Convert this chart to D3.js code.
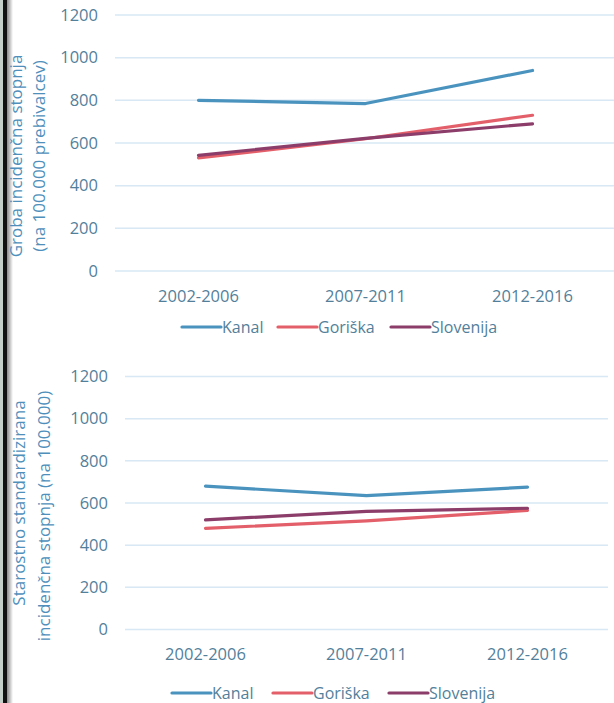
<!DOCTYPE html>
<html>
<head>
<meta charset="utf-8">
<title>Incidenčna stopnja</title>
<script src="https://d3js.org/d3.v7.min.js"></script>
<style>
  body { margin: 0; background: #fff; }
  svg { display: block; font-family: "Open Sans", sans-serif; }
</style>
</head>
<body>
<div id="chart"></div>
<script>
// data
var periods = ["2002-2006", "2007-2011", "2012-2016"];
var seriesNames = ["Kanal", "Goriška", "Slovenija"];
var seriesColors = ["#4a93bf", "#e35f69", "#8c3d69"];
var yTicks = [0, 200, 400, 600, 800, 1000, 1200];

// groba incidenčna stopnja
var crudeKanal = [800, 785, 940];
var crudeGoriska = [530, 620, 730];
var crudeSlovenija = [542, 622, 690];

// starostno standardizirana
var stdKanal = [680, 635, 675];
var stdGoriska = [480, 515, 565];
var stdSlovenija = [520, 560, 575];

var W = 614, H = 703;
var svg = d3.select("#chart").append("svg")
    .attr("width", W)
    .attr("height", H);

// frame on the left edge
var grad = svg.append("defs").append("linearGradient").attr("id", "edge");
grad.append("stop").attr("offset", "0%").attr("stop-color", "#8a8a8a");
grad.append("stop").attr("offset", "100%").attr("stop-color", "#ffffff");
svg.append("rect").attr("x", 0).attr("y", 0).attr("width", 3).attr("height", H).attr("fill", "#c5cfca");
svg.append("rect").attr("x", 3).attr("y", 0).attr("width", 4).attr("height", H).attr("fill", "#111");
svg.append("rect").attr("x", 7).attr("y", 0).attr("width", 6).attr("height", H).attr("fill", "url(#edge)");

function drawPanel(cfg) {
    var g = svg.append("g");

    var x = d3.scaleBand()
        .domain(periods)
        .range([cfg.left, cfg.right]);

    var y = d3.scaleLinear()
        .domain([0, 1200])
        .range([cfg.bottom, cfg.top]);

    // gridlines
    g.selectAll(".grid")
        .data(yTicks)
        .enter()
        .append("line")
        .attr("x1", cfg.left)
        .attr("x2", cfg.gridRight)
        .attr("y1", function(d) { return y(d); })
        .attr("y2", function(d) { return y(d); })
        .attr("stroke", "#d8e8f4")
        .attr("stroke-width", 1.5);

    // y tick labels
    g.selectAll(".ytick")
        .data(yTicks)
        .enter()
        .append("text")
        .attr("x", cfg.tickX)
        .attr("y", function(d) { return y(d); })
        .attr("dy", "0.35em")
        .attr("text-anchor", "end")
        .attr("fill", "#537f9b")
        .style("font-size", "16.5px")
        .text(function(d) { return d; });

    // x labels
    g.selectAll(".xtick")
        .data(periods)
        .enter()
        .append("text")
        .attr("x", function(d) { return x(d) + x.bandwidth() / 2; })
        .attr("y", cfg.xLabelY)
        .attr("text-anchor", "middle")
        .attr("fill", "#537f9b")
        .style("font-size", "16.5px")
        .text(function(d) { return d; });

    // y axis title
    cfg.title.forEach(function(t) {
        g.append("text")
            .attr("transform", "translate(" + t.x + "," + t.y + ")rotate(-90)")
            .attr("text-anchor", "middle")
            .attr("fill", "#4f8fbb")
            .style("font-size", "17px")
            .text(t.text);
    });

    var line = d3.line()
        .x(function(d, i) { return x(periods[i]) + x.bandwidth() / 2; })
        .y(function(d) { return y(d); });

    // draw in order Kanal, Goriška, Slovenija
    cfg.series.forEach(function(vals, i) {
        g.append("path")
            .datum(vals)
            .attr("d", line)
            .attr("fill", "none")
            .attr("stroke", seriesColors[i])
            .attr("stroke-width", 3.2)
            .attr("stroke-linecap", "round")
            .attr("stroke-linejoin", "round");
    });

    // legend
    var lg = g.append("g");
    seriesNames.forEach(function(name, i) {
        var lx = cfg.legendX[i];
        lg.append("line")
            .attr("x1", lx)
            .attr("x2", lx + 39)
            .attr("y1", cfg.legendY)
            .attr("y2", cfg.legendY)
            .attr("stroke", seriesColors[i])
            .attr("stroke-width", 3.2)
            .attr("stroke-linecap", "round");
        lg.append("text")
            .attr("x", lx + 40)
            .attr("y", cfg.legendY)
            .attr("dy", "0.35em")
            .attr("fill", "#537f9b")
            .style("font-size", "16px")
            .text(name);
    });
}

drawPanel({
    left: 115, right: 616, gridRight: 614,
    top: 15, bottom: 271,
    tickX: 98, xLabelY: 302,
    title: [
        {x: 22, y: 156, text: "Groba incidenčna stopnja"},
        {x: 45, y: 156, text: "(na 100.000 prebivalcev)"}
    ],
    series: [crudeKanal, crudeGoriska, crudeSlovenija],
    legendX: [182, 278, 391],
    legendY: 327
});

drawPanel({
    left: 125, right: 608, gridRight: 608,
    top: 376.5, bottom: 629.5,
    tickX: 108, xLabelY: 660,
    title: [
        {x: 25, y: 503, text: "Starostno standardizirana"},
        {x: 50, y: 516, text: "incidenčna stopnja (na 100.000)"}
    ],
    series: [stdKanal, stdGoriska, stdSlovenija],
    legendX: [172, 273, 389],
    legendY: 693
});
</script>
</body>
</html>
